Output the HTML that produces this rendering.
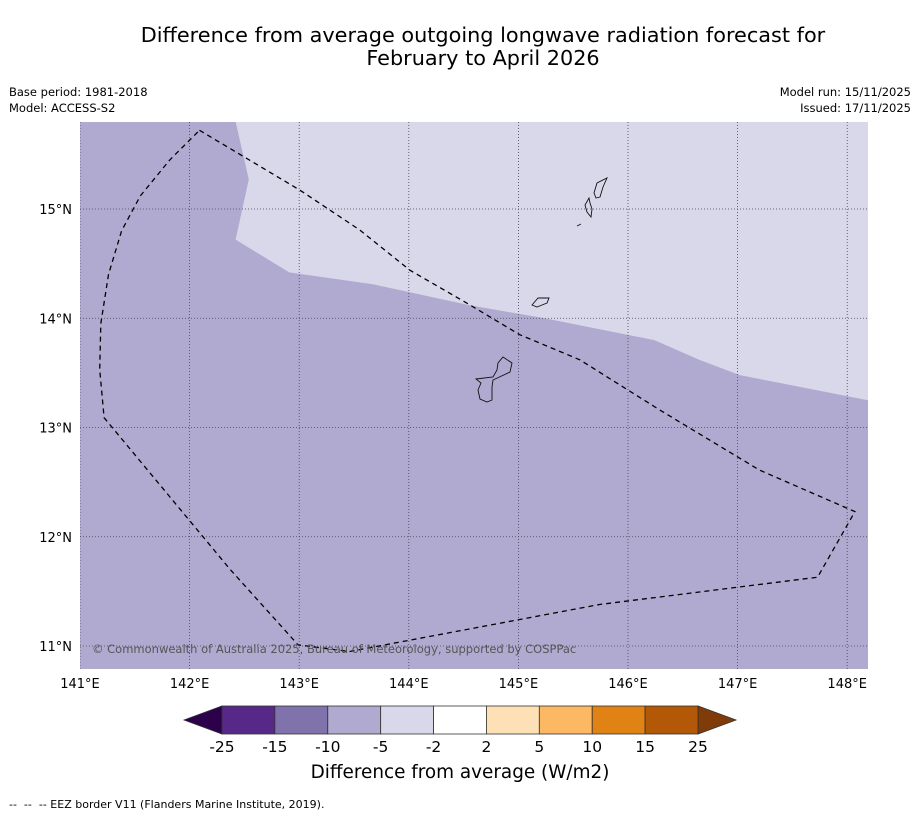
<!DOCTYPE html>
<html><head><meta charset="utf-8"><style>
body{margin:0;background:#fff;font-family:"Liberation Sans","DejaVu Sans",sans-serif;}
</style></head><body>
<svg width="919" height="816" xmlns="http://www.w3.org/2000/svg" font-family="DejaVu Sans, Liberation Sans, sans-serif">
<text x="483" y="42" font-size="20.8" text-anchor="middle">Difference from average outgoing longwave radiation forecast for</text>
<text x="483" y="65" font-size="20.8" text-anchor="middle">February to April 2026</text>
<text x="9" y="96" font-size="11.5">Base period: 1981-2018</text>
<text x="9" y="112" font-size="11.5">Model: ACCESS-S2</text>
<text x="911" y="96" font-size="11.5" text-anchor="end">Model run: 15/11/2025</text>
<text x="911" y="112" font-size="11.5" text-anchor="end">Issued: 17/11/2025</text>
<defs><clipPath id="mapclip"><rect x="80" y="122" width="788" height="547"/></clipPath></defs>
<g clip-path="url(#mapclip)" id="map">
<rect x="80" y="122" width="788" height="547" fill="#b1aad0"/>
<path id="lightField" fill="#d8d8ea"/>
<g id="grid"></g>
<path id="eez" fill="none" stroke="#000" stroke-width="1.3" stroke-dasharray="5,4"/>
<g fill="none" stroke="#111" stroke-width="0.9">
<path d="M503,357 L512,363 L510,372 L493,380 L492,387 L492,400 L487,402 L480,399 L478,390 L481,383 L476,379 L493,377 L497,370 L498,363 Z"/>
<path d="M532,305 L538,298 L549,298 L547,303 L542,305 L537,307 Z"/>
<path d="M589,198 L585,205 L587,212 L591,217 L592,209 L590,203 Z"/>
<path d="M607,178 L603,187 L600,197 L596,198 L594,193 L597,183 Z"/>
<path d="M577,226 L581,224"/>
</g>
<text x="92" y="653" font-size="11.5" fill="#555">© Commonwealth of Australia 2025, Bureau of Meteorology, supported by COSPPac</text>
</g>
<g id="ticks" font-size="13"></g>
<g id="cbar"></g>
<text x="460" y="778" font-size="18.4" text-anchor="middle">Difference from average (W/m2)</text>
<text x="9" y="808" font-size="11">--&#160;&#160;--&#160;&#160;-- EEZ border V11 (Flanders Marine Institute, 2019).</text>
</svg>
<script>
const lonTicks=[141,142,143,144,145,146,147,148];
const latTicks=[11,12,13,14,15];
const fieldLon=[142.42,142.54,142.42,142.91,143.68,144.55,145.24,146.24,146.65,147.02,148.19,148.19];
const fieldLat=[15.80,15.27,14.72,14.42,14.31,14.12,14.00,13.80,13.62,13.48,13.25,15.80];
const eezLon=[142.09,142.51,143.01,143.55,144.01,144.56,145.01,145.56,146.29,147.20,148.07,147.73,145.74,143.46,142.99,142.37,141.22,141.18,141.19,141.26,141.38,141.55,141.82,142.09];
const eezLat=[15.72,15.47,15.17,14.81,14.44,14.12,13.85,13.62,13.16,12.61,12.23,11.63,11.38,10.95,11.01,11.70,13.09,13.53,13.95,14.40,14.80,15.12,15.45,15.72];
const cbarLabels=["-25","-15","-10","-5","-2","2","5","10","15","25"];
const cbarColors=["#562888","#8073ac","#b1aad0","#d8d8ea","#ffffff","#fee0b6","#fdb863","#e08214","#b35806"];
const NS="http://www.w3.org/2000/svg";
const X=lon=>80+(lon-141)*109.6;
const Y=lat=>209-(lat-15)*109.25;
function mk(t,a,p){const e=document.createElementNS(NS,t);for(const k in a)e.setAttribute(k,a[k]);p.appendChild(e);return e;}
function pathOf(lo,la,close){return lo.map((v,i)=>(i?'L':'M')+X(v).toFixed(1)+','+Y(la[i]).toFixed(1)).join(' ')+(close?' Z':'');}
document.getElementById('lightField').setAttribute('d',pathOf(fieldLon,fieldLat,true));
document.getElementById('eez').setAttribute('d',pathOf(eezLon,eezLat,false));
const grid=document.getElementById('grid'),ticks=document.getElementById('ticks');
lonTicks.forEach(l=>{
 const g=mk('line',{x1:X(l),x2:X(l),y1:122,y2:669,stroke:'#445',"stroke-width":0.8,"stroke-dasharray":"1,2"},grid);
 
 
 const t=mk('text',{x:X(l),y:688,"text-anchor":"middle"},ticks);t.textContent=l+'°E';
 
 
});
latTicks.forEach(l=>{
 const g=mk('line',{x1:80,x2:868,y1:Y(l),y2:Y(l),stroke:'#445',"stroke-width":0.8,"stroke-dasharray":"1,2"},grid);
 
 
 const t=mk('text',{x:72,y:Y(l)+5,"text-anchor":"end"},ticks);t.textContent=l+'°N';
 
 
});
const cb=document.getElementById('cbar');
const x0=222,w=(698-222)/cbarColors.length,y0=706,h=28;
const lt=mk('polygon',{points:`${x0},${y0} ${x0},${y0+h} 184,${y0+h/2}`,fill:'#2d004b',stroke:'#333',"stroke-width":0.8},cb);


const rt=mk('polygon',{points:`698,${y0} 698,${y0+h} 736,${y0+h/2}`,fill:'#7f3b08',stroke:'#333',"stroke-width":0.8},cb);


cbarColors.forEach((c,i)=>{
 const r=mk('rect',{x:x0+i*w,y:y0,width:w,height:h,fill:c,stroke:'#333',"stroke-width":0.8},cb);
 
 
});
cbarLabels.forEach((s,i)=>{
 const t=mk('text',{x:x0+i*w,y:752,"text-anchor":"middle","font-size":15.5},cb);t.textContent=s;
 
 
});
</script>
</body></html>
